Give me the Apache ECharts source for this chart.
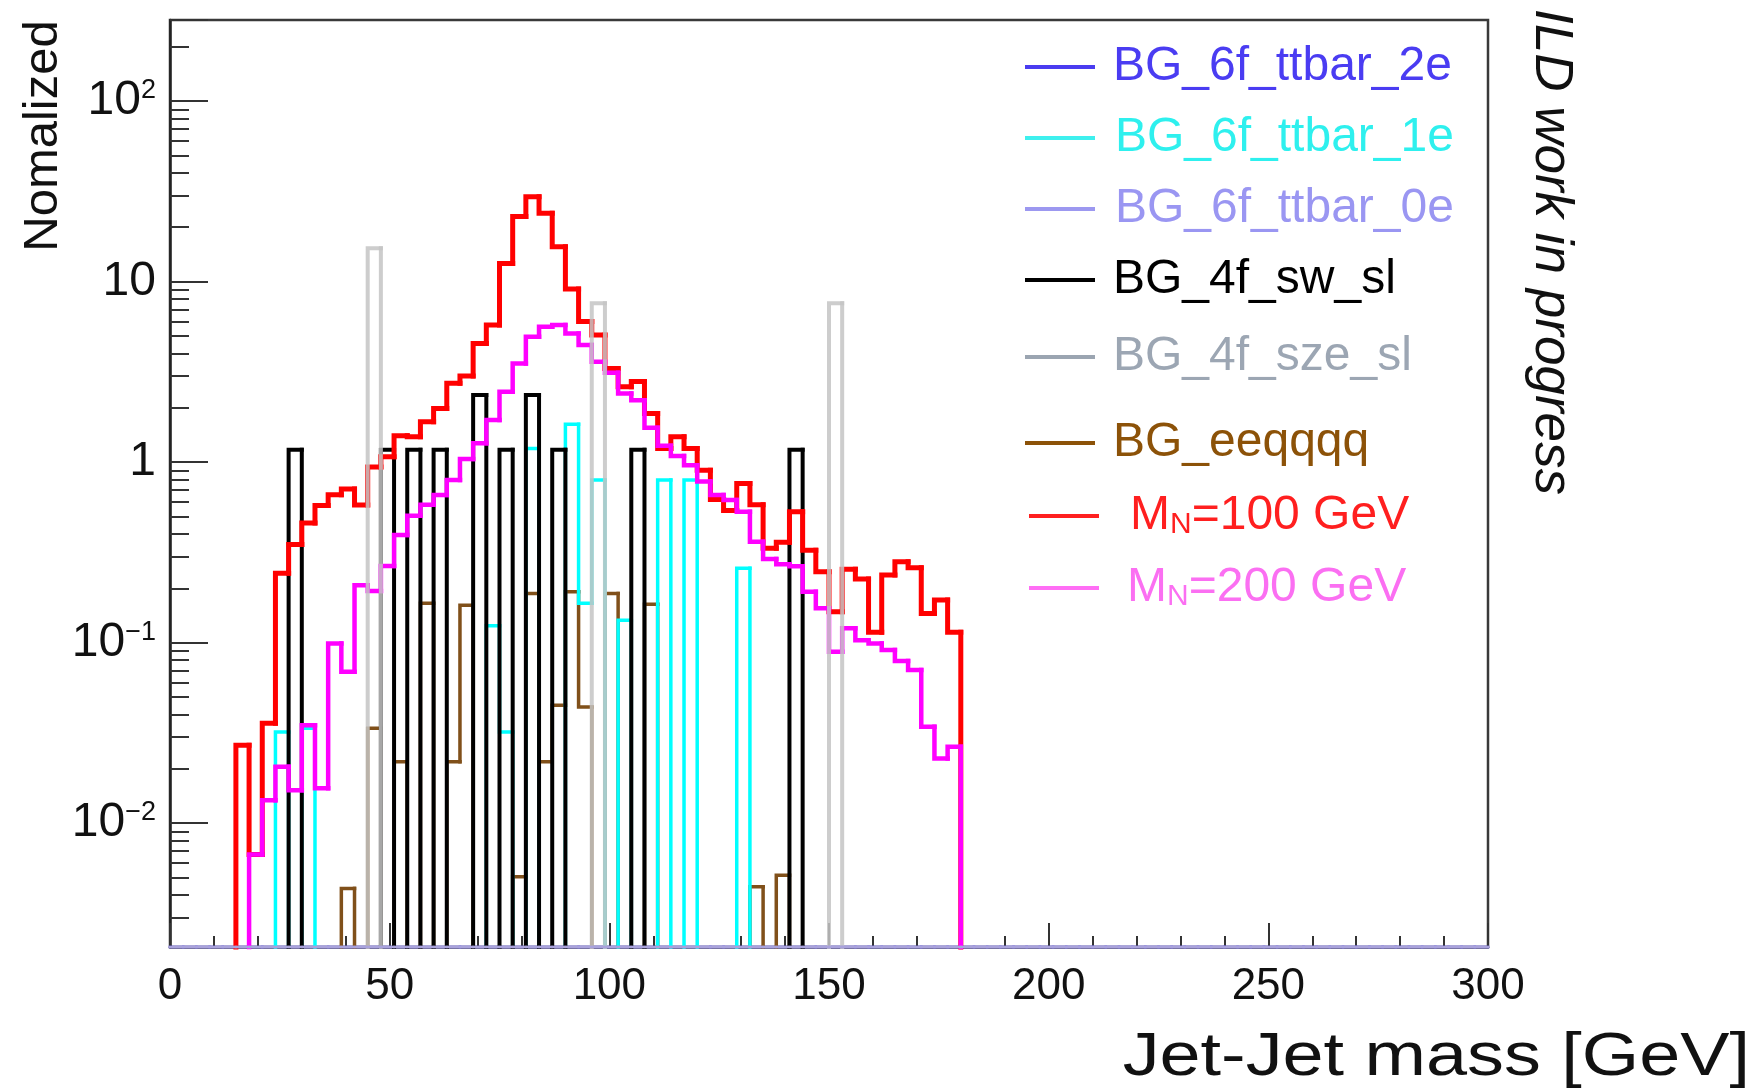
<!DOCTYPE html>
<html>
<head>
<meta charset="utf-8">
<script src="https://cdn.jsdelivr.net/npm/echarts@6/dist/echarts.min.js"></script>
<style>
html,body{margin:0;padding:0;background:#ffffff;}
#chart{width:1763px;height:1092px;}
</style>
</head>
<body>
<div id="chart"></div>
<script>
// ---------------- data (bin low edge [GeV], normalized content) ----------------
const BIN_WIDTH = 3;
const X_MIN = 0, X_MAX = 300;
const Y_MIN = 0.00206, Y_MAX = 281;
const xTickValues = [0, 50, 100, 150, 200, 250, 300];
const yDecadeBase = { '-2': '10', '-1': '10', '0': '1', '1': '10', '2': '10' };
const yDecadeSup = { '-2': '−2', '-1': '−1', '0': '', '1': '', '2': '2' };

const mn100 = [[15,0.027],[18,0.0067],[21,0.0357],[24,0.242],[27,0.35],[30,0.46],[33,0.575],[36,0.66],[39,0.71],[42,0.578],[45,0.94],[48,1.07],[51,1.40],[54,1.38],[57,1.67],[60,1.98],[63,2.73],[66,3.0],[69,4.54],[72,5.74],[75,12.6],[78,22.9],[81,29.5],[84,23.9],[87,15.6],[90,9.1],[93,6.0],[96,5.05],[99,3.3],[102,2.61],[105,2.79],[108,1.86],[111,1.19],[114,1.38],[117,1.19],[120,0.90],[123,0.62],[126,0.54],[129,0.76],[132,0.58],[135,0.333],[138,0.36],[141,0.53],[144,0.325],[147,0.247],[150,0.148],[153,0.255],[156,0.225],[159,0.114],[162,0.237],[165,0.28],[168,0.26],[171,0.145],[174,0.172],[177,0.114]];
const mn200 = [[18,0.0067],[21,0.0134],[24,0.0205],[27,0.0152],[30,0.0349],[33,0.0156],[36,0.099],[39,0.069],[42,0.208],[45,0.193],[48,0.266],[51,0.394],[54,0.505],[57,0.58],[60,0.656],[63,0.795],[66,1.04],[69,1.27],[72,1.71],[75,2.45],[78,3.52],[81,4.94],[84,5.62],[87,5.74],[90,5.16],[93,4.45],[96,3.59],[99,3.12],[102,2.4],[105,2.2],[108,1.55],[111,1.23],[114,1.08],[117,0.96],[120,0.78],[123,0.656],[126,0.616],[129,0.53],[132,0.362],[135,0.29],[138,0.272],[141,0.265],[144,0.191],[147,0.155],[150,0.089],[153,0.12],[156,0.103],[159,0.099],[162,0.091],[165,0.079],[168,0.0705],[171,0.0342],[174,0.0228],[177,0.0265]];
const sw_sl = [[27,1.17],[48,1.17],[54,1.17],[60,1.17],[69,2.35],[75,1.17],[81,2.35],[87,1.17],[105,1.17],[141,1.17]];
const sze_sl = [[45,15.3],[96,7.57],[150,7.57]];
const ttbar1e = [[24,0.032],[30,0.0335],[72,0.124],[75,0.032],[81,1.19],[90,1.62],[93,0.165],[96,0.795],[102,0.133],[111,0.795],[117,0.795],[129,0.258]];
const eeqqqq = [[39,0.00435],[45,0.0335],[51,0.0219],[57,0.165],[63,0.0219],[66,0.161],[78,0.00504],[81,0.187],[84,0.0219],[87,0.045],[90,0.191],[93,0.044],[99,0.187],[108,0.163],[132,0.00444],[138,0.00515]];
const ttbar2e = [];
const ttbar0e = [];

// ---------------- helpers ----------------
const FONT = '"Liberation Sans", Arial, Helvetica, sans-serif';
const NBINS = Math.round((X_MAX - X_MIN) / BIN_WIDTH);

function toBins(pairs) {
  const vals = new Array(NBINS).fill(0);
  pairs.forEach(([lo, v]) => { vals[Math.round((lo - X_MIN) / BIN_WIDTH)] = v; });
  return vals.map((v, i) => [X_MIN + i * BIN_WIDTH, X_MIN + (i + 1) * BIN_WIDTH, v, i > 0 ? vals[i - 1] : 0]);
}

function histRenderer(lineWidth, opacity, drawBaseline) {
  return function (params, api) {
    const x0 = api.value(0), x1 = api.value(1), v = api.value(2), pv = api.value(3);
    const cs = params.coordSys;
    const bottom = cs.y + cs.height;
    const yAt = (val) => (val > 0 ? api.coord([x0, val])[1] : bottom);
    const px0 = api.coord([x0, 1])[0];
    const px1 = api.coord([x1, 1])[0];
    const yv = yAt(v), yp = yAt(pv);
    let pts = null;
    if (v > 0 || drawBaseline) pts = [[px0, yp], [px0, yv], [px1, yv]];
    else if (pv > 0) pts = [[px0, yp], [px0, bottom]];
    if (!pts) return null;
    return {
      type: 'polyline',
      shape: { points: pts },
      style: { stroke: api.visual('color'), lineWidth: lineWidth, fill: null, opacity: opacity, lineJoin: 'miter', lineCap: 'square' },
      silent: true
    };
  };
}

function histSeries(name, pairs, color, lineWidth, z, opacity, baseline) {
  return {
    type: 'custom', name: name, data: toBins(pairs),
    encode: { x: [0, 1], y: 2 },
    renderItem: histRenderer(lineWidth, opacity == null ? 1 : opacity, !!baseline),
    itemStyle: { color: color }, z: z, clip: false, silent: true, animation: false
  };
}

const legendSpec = [
  { name: 'BG_6f_ttbar_2e', line: '#4a3cf0', text: '#4a3cf2', left: 1025, cy: 67, pad: 13 },
  { name: 'BG_6f_ttbar_1e', line: '#3ef0ee', text: '#2ef0ee', left: 1025, cy: 138, pad: 15 },
  { name: 'BG_6f_ttbar_0e', line: '#9c98f0', text: '#9a96f2', left: 1025, cy: 209, pad: 15 },
  { name: 'BG_4f_sw_sl', line: '#000000', text: '#000000', left: 1025, cy: 280, pad: 13 },
  { name: 'BG_4f_sze_sl', line: '#9ba5b1', text: '#9ca6b3', left: 1025, cy: 357, pad: 13 },
  { name: 'BG_eeqqqq', line: '#8c5208', text: '#8c5208', left: 1025, cy: 443, pad: 13 },
  { name: 'M_N=100 GeV', line: '#ff2020', text: '#ff1f1f', left: 1029, cy: 516, pad: 26 },
  { name: 'M_N=200 GeV', line: '#ff6ef5', text: '#fb6ff2', left: 1029, cy: 588, pad: 23 }
];

const legends = legendSpec.map(s => ({
  data: [{ name: s.name, itemStyle: { color: s.line }, textStyle: { color: s.text } }],
  left: s.left, top: s.cy - 24, padding: 0, orient: 'horizontal',
  icon: 'rect', itemWidth: 70, itemHeight: 4, selectedMode: false,
  formatter: (n) => n.indexOf('M_N') === 0 ? '{m|M}{n|N}{m|' + n.slice(3) + '}' : n,
  textStyle: {
    fontSize: 48, lineHeight: 48, fontFamily: FONT, color: s.text, padding: [0, 0, 0, s.pad],
    rich: {
      m: { fontSize: 48, lineHeight: 48, fontFamily: FONT, color: s.text },
      n: { fontSize: 30, lineHeight: 30, fontFamily: FONT, color: s.text, verticalAlign: 'bottom' }
    }
  }
}));

const chart = echarts.init(document.getElementById('chart'), null, { renderer: 'canvas' });
chart.setOption({
  backgroundColor: '#ffffff',
  animation: false,
  grid: { left: 170, right: 275, top: 20, bottom: 145, show: true, borderColor: '#3a3a3a', borderWidth: 2.5, backgroundColor: 'transparent' },
  legend: legends,
  xAxis: {
    type: 'value', min: X_MIN, max: X_MAX, interval: 50,
    axisLine: { show: true, onZero: false, lineStyle: { color: '#555', width: 2.5 } },
    axisTick: { show: true, inside: true, length: 24, lineStyle: { color: '#333', width: 2 } },
    minorTick: { show: true, splitNumber: 5, length: 11, lineStyle: { color: '#333', width: 2 } },
    axisLabel: { margin: 18, fontSize: 44, fontFamily: FONT, color: '#111', formatter: (v) => xTickValues.indexOf(v) >= 0 ? String(v) : '' },
    splitLine: { show: false }, minorSplitLine: { show: false }
  },
  yAxis: {
    type: 'log', logBase: 10, min: Y_MIN, max: Y_MAX,
    axisLine: { show: true, lineStyle: { color: '#222', width: 2.5 } },
    axisTick: { show: true, inside: true, length: 38, lineStyle: { color: '#333', width: 2 } },
    minorTick: { show: true, splitNumber: 9, length: 19, lineStyle: { color: '#333', width: 2 } },
    axisLabel: {
      margin: 14, fontSize: 48, fontFamily: FONT, color: '#111',
      formatter: (v) => {
        const e = Math.log10(v), r = Math.round(e);
        if (Math.abs(e - r) > 1e-6) return '';
        const k = String(r);
        if (!(k in yDecadeBase)) return '';
        return '{b|' + yDecadeBase[k] + '}' + (yDecadeSup[k] ? '{s|' + yDecadeSup[k] + '}' : '');
      },
      rich: {
        b: { fontSize: 48, lineHeight: 48, fontFamily: FONT, color: '#111' },
        s: { fontSize: 27, lineHeight: 22, fontFamily: FONT, color: '#111', verticalAlign: 'top' }
      }
    },
    splitLine: { show: false }, minorSplitLine: { show: false }
  },
  graphic: [
    { type: 'text', x: 43, y: 136, rotation: Math.PI / 2, silent: true,
      style: { text: 'Nomalized', fontSize: 49, fontFamily: FONT, fill: '#111', align: 'center', verticalAlign: 'middle', textAlign: 'center', textVerticalAlign: 'middle' } },
    { type: 'text', x: 1551, y: 252, rotation: -Math.PI / 2, silent: true,
      style: { text: 'ILD work in progress', fontSize: 53, fontStyle: 'italic', fontFamily: FONT, fill: '#111', align: 'center', verticalAlign: 'middle', textAlign: 'center', textVerticalAlign: 'middle' } },
    { type: 'text', x: 1750, y: 1058, scaleX: 1.19, silent: true,
      style: { text: 'Jet-Jet mass [GeV]', fontSize: 62, fontFamily: FONT, fill: '#111', align: 'right', verticalAlign: 'middle', textAlign: 'right', textVerticalAlign: 'middle' } }
  ],
  series: [
    histSeries('BG_6f_ttbar_2e', ttbar2e, '#4a3cf0', 2.5, 1, 1, true),
    histSeries('BG_eeqqqq', eeqqqq, '#80501a', 3.5, 2),
    histSeries('BG_6f_ttbar_1e', ttbar1e, '#00ffff', 3.5, 3),
    histSeries('BG_4f_sw_sl', sw_sl, '#000000', 4, 4),
    histSeries('M_N=100 GeV', mn100, '#ff0000', 5, 5),
    histSeries('M_N=200 GeV', mn200, '#ff00ff', 4.5, 6),
    histSeries('BG_4f_sze_sl', sze_sl, '#c4c4c4', 4, 7, 0.85),
    histSeries('BG_6f_ttbar_0e', ttbar0e, '#a9a2dc', 2.5, 8, 1, true)
  ]
});
</script>
</body>
</html>
